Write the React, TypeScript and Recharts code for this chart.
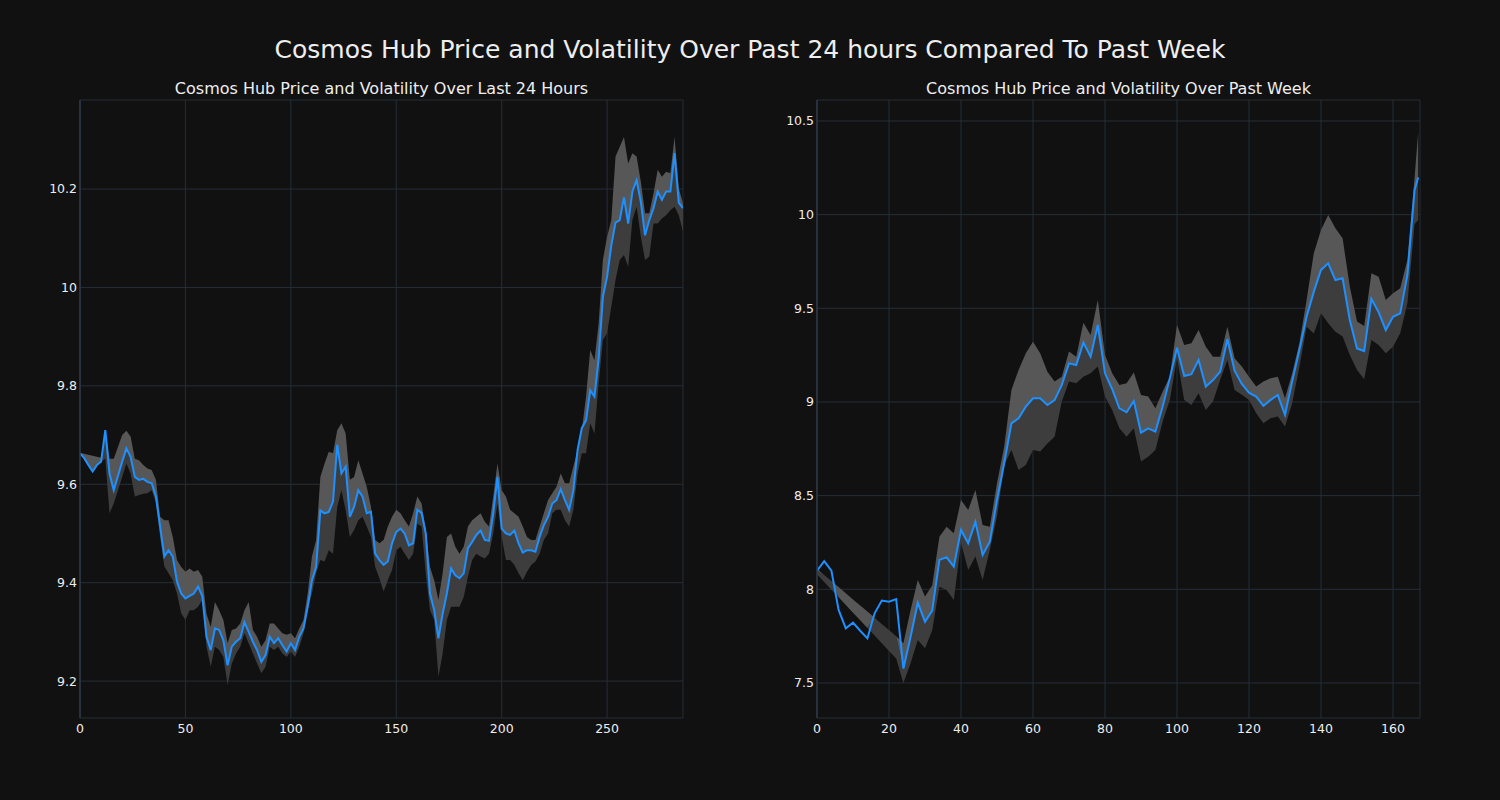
import React from 'react';
import { ComposedChart, Line, Area, XAxis, YAxis, CartesianGrid } from 'recharts';

// last 24 hours, one reading every 2 steps (x = 0..286)
const dayPrice = [
  9.663, 9.653, 9.639, 9.626, 9.639, 9.646, 9.710, 9.622, 9.588, 9.617,
  9.646, 9.673, 9.656, 9.615, 9.609, 9.611, 9.605, 9.602, 9.575, 9.514,
  9.453, 9.466, 9.453, 9.402, 9.378, 9.368, 9.373, 9.378, 9.392, 9.373,
  9.290, 9.263, 9.307, 9.304, 9.283, 9.232, 9.270, 9.280, 9.287, 9.320,
  9.300, 9.280, 9.263, 9.239, 9.253, 9.290, 9.277, 9.287, 9.273, 9.260,
  9.277, 9.263, 9.290, 9.307, 9.351, 9.405, 9.432, 9.547, 9.541, 9.544,
  9.565, 9.680, 9.622, 9.636, 9.534, 9.554, 9.588, 9.575, 9.541, 9.544,
  9.459, 9.446, 9.436, 9.443, 9.480, 9.503, 9.510, 9.500, 9.476, 9.480,
  9.548, 9.542, 9.500, 9.378, 9.344, 9.287, 9.337, 9.378, 9.429, 9.415,
  9.409, 9.419, 9.470, 9.483, 9.497, 9.506, 9.487, 9.485, 9.541, 9.615,
  9.510, 9.500, 9.497, 9.506, 9.480, 9.461, 9.466, 9.466, 9.463, 9.493,
  9.517, 9.534, 9.561, 9.568, 9.590, 9.568, 9.548, 9.588, 9.670, 9.714,
  9.730, 9.791, 9.778, 9.856, 9.981, 10.022, 10.086, 10.132, 10.137, 10.183,
  10.130, 10.195, 10.218, 10.174, 10.106, 10.137, 10.161, 10.195, 10.178, 10.195,
  10.195, 10.273, 10.172, 10.161,
];
const dayHigh = [
  9.664, 9.662, 9.660, 9.658, 9.656, 9.654, 9.712, 9.652, 9.652, 9.676,
  9.700, 9.709, 9.697, 9.652, 9.649, 9.639, 9.632, 9.629, 9.609, 9.534,
  9.527, 9.527, 9.493, 9.446, 9.432, 9.422, 9.429, 9.422, 9.426, 9.412,
  9.337, 9.310, 9.361, 9.344, 9.324, 9.277, 9.304, 9.307, 9.317, 9.344,
  9.361, 9.304, 9.290, 9.270, 9.283, 9.317, 9.317, 9.307, 9.297, 9.294,
  9.297, 9.287, 9.307, 9.324, 9.378, 9.453, 9.487, 9.615, 9.642, 9.666,
  9.663, 9.710, 9.724, 9.703, 9.609, 9.615, 9.649, 9.622, 9.595, 9.554,
  9.487, 9.480, 9.487, 9.514, 9.534, 9.548, 9.541, 9.527, 9.514, 9.541,
  9.575, 9.561, 9.507, 9.432, 9.405, 9.365, 9.419, 9.493, 9.500, 9.473,
  9.459, 9.473, 9.514, 9.527, 9.534, 9.541, 9.524, 9.514, 9.575, 9.642,
  9.588, 9.575, 9.548, 9.541, 9.534, 9.514, 9.493, 9.487, 9.487, 9.514,
  9.541, 9.568, 9.582, 9.595, 9.622, 9.602, 9.602, 9.636, 9.670, 9.710,
  9.778, 9.873, 9.852, 9.927, 10.056, 10.103, 10.137, 10.266, 10.286, 10.306,
  10.252, 10.273, 10.266, 10.215, 10.151, 10.151, 10.191, 10.239, 10.225, 10.235,
  10.232, 10.306, 10.201, 10.171,
];
const dayLow = [
  9.663, 9.653, 9.639, 9.626, 9.639, 9.646, 9.652, 9.541, 9.561, 9.588,
  9.615, 9.642, 9.622, 9.575, 9.578, 9.581, 9.582, 9.588, 9.564, 9.493,
  9.433, 9.419, 9.405, 9.378, 9.338, 9.324, 9.344, 9.344, 9.351, 9.365,
  9.270, 9.229, 9.270, 9.263, 9.249, 9.192, 9.236, 9.256, 9.270, 9.297,
  9.277, 9.256, 9.236, 9.216, 9.229, 9.270, 9.263, 9.270, 9.256, 9.249,
  9.260, 9.249, 9.270, 9.297, 9.344, 9.378, 9.419, 9.446, 9.443, 9.466,
  9.459, 9.554, 9.588, 9.547, 9.493, 9.507, 9.527, 9.534, 9.514, 9.493,
  9.432, 9.409, 9.382, 9.405, 9.426, 9.466, 9.473, 9.459, 9.446, 9.459,
  9.520, 9.514, 9.419, 9.344, 9.324, 9.209, 9.256, 9.324, 9.351, 9.351,
  9.351, 9.371, 9.412, 9.446, 9.459, 9.453, 9.449, 9.459, 9.500, 9.561,
  9.493, 9.446, 9.446, 9.436, 9.419, 9.405, 9.422, 9.436, 9.443, 9.459,
  9.487, 9.500, 9.541, 9.548, 9.548, 9.527, 9.514, 9.548, 9.622, 9.663,
  9.663, 9.724, 9.703, 9.805, 9.893, 9.907, 9.961, 10.015, 10.056, 10.066,
  10.042, 10.137, 10.164, 10.103, 10.056, 10.063, 10.130, 10.130, 10.140, 10.147,
  10.157, 10.164, 10.147, 10.113,
];
const dayHours = dayPrice.map((_, i) => i * 2);

// past week, hourly readings every 2 hours, last one at hour 167
const weekPrice = [
  8.100, 8.150, 8.100, 7.890, 7.792, 7.822, 7.779, 7.738, 7.872, 7.940,
  7.934, 7.948, 7.577, 7.747, 7.929, 7.827, 7.886, 8.157, 8.171, 8.121,
  8.317, 8.246, 8.360, 8.183, 8.254, 8.477, 8.673, 8.886, 8.913, 8.975,
  9.020, 9.020, 8.984, 9.010, 9.091, 9.206, 9.197, 9.317, 9.242, 9.411,
  9.153, 9.068, 8.966, 8.945, 9.005, 8.836, 8.859, 8.842, 8.975, 9.126,
  9.290, 9.139, 9.148, 9.224, 9.082, 9.117, 9.162, 9.335, 9.167, 9.096,
  9.050, 9.029, 8.979, 9.011, 9.037, 8.931, 9.110, 9.278, 9.455, 9.589,
  9.705, 9.740, 9.651, 9.660, 9.438, 9.286, 9.272, 9.550, 9.480, 9.384,
  9.455, 9.473, 9.678, 10.132, 10.199,
];
const weekHigh = [
  8.110, 8.077, 8.045, 8.012, 7.979, 7.946, 7.914, 7.881, 7.848, 7.815,
  7.783, 7.750, 7.712, 7.889, 8.050, 7.961, 8.020, 8.281, 8.334, 8.299,
  8.477, 8.424, 8.530, 8.343, 8.334, 8.566, 8.762, 9.064, 9.171, 9.260,
  9.322, 9.260, 9.162, 9.109, 9.135, 9.269, 9.242, 9.423, 9.358, 9.545,
  9.251, 9.153, 9.091, 9.100, 9.157, 9.037, 9.029, 8.966, 9.055, 9.135,
  9.411, 9.304, 9.313, 9.384, 9.295, 9.242, 9.242, 9.402, 9.233, 9.189,
  9.135, 9.082, 9.109, 9.126, 9.135, 9.020, 9.153, 9.313, 9.545, 9.794,
  9.918, 9.998, 9.927, 9.874, 9.616, 9.429, 9.406, 9.687, 9.669, 9.545,
  9.580, 9.607, 9.758, 10.200, 10.440,
];
const weekLow = [
  8.080, 8.039, 7.998, 7.957, 7.916, 7.875, 7.835, 7.794, 7.753, 7.712,
  7.671, 7.630, 7.500, 7.605, 7.729, 7.685, 7.780, 8.014, 7.996, 7.943,
  8.246, 8.103, 8.175, 8.050, 8.210, 8.388, 8.664, 8.744, 8.637, 8.664,
  8.744, 8.735, 8.779, 8.815, 9.002, 9.109, 9.100, 9.135, 9.153, 9.189,
  9.029, 8.957, 8.860, 8.815, 8.860, 8.682, 8.708, 8.744, 8.895, 9.011,
  9.233, 9.011, 8.984, 9.046, 8.957, 9.002, 9.118, 9.224, 9.064, 9.038,
  9.011, 8.940, 8.886, 8.913, 8.922, 8.869, 8.993, 9.189, 9.402, 9.366,
  9.473, 9.420, 9.375, 9.349, 9.251, 9.171, 9.121, 9.331, 9.304, 9.260,
  9.295, 9.367, 9.527, 9.950, 9.970,
];
const weekHours = weekPrice.map((_, i) => Math.min(i * 2, 167));

const dayTicksX = [0, 50, 100, 150, 200, 250];
const dayTicksY = [9.2, 9.4, 9.6, 9.8, 10, 10.2];
const weekTicksX = [0, 20, 40, 60, 80, 100, 120, 140, 160];
const weekTicksY = [7.5, 8, 8.5, 9, 9.5, 10, 10.5];

const BG = '#111111';
const GRID = '#252e39';
const TEXT = '#eeeeee';
const FONT = '"DejaVu Sans", sans-serif';

function buildRows(xs: number[], price: number[], high: number[], low: number[]) {
  return xs.map((x, i) => {
    const mid = Math.min(Math.max(price[i], low[i]), high[i]);
    return { x, price: price[i], upper: [mid, high[i]], lower: [low[i], mid] };
  });
}

interface PanelProps {
  left: number;
  rows: any[];
  xDomain: [number, number];
  xTicks: number[];
  yDomain: [number, number];
  yTicks: number[];
}

const Panel: React.FC<PanelProps> = ({ left, rows, xDomain, xTicks, yDomain, yTicks }) => {
  const tick = { fill: TEXT, fontSize: 12.5, fontFamily: FONT };
  return (
    <div style={{ position: 'absolute', left, top: 0 }}>
      <ComposedChart width={700} height={800} data={rows} margin={{ top: 100, right: 17, left: 0, bottom: 52 }}>
        <CartesianGrid stroke={GRID} strokeWidth={1} />
        <XAxis
          type="number"
          dataKey="x"
          domain={xDomain}
          ticks={xTicks}
          tick={tick}
          tickLine={false}
          axisLine={false}
          tickSize={0}
          tickMargin={6}
          height={30}
          allowDataOverflow
        />
        <YAxis
          type="number"
          domain={yDomain}
          ticks={yTicks}
          tick={tick}
          tickLine={false}
          axisLine={{ stroke: '#2c3948', strokeWidth: 1.5 }}
          tickSize={0}
          tickMargin={3}
          width={80}
          allowDataOverflow
        />
        <Area dataKey="lower" stroke="none" fill="#3d3d3d" fillOpacity={1} isAnimationActive={false} />
        <Area dataKey="upper" stroke="none" fill="#575757" fillOpacity={1} isAnimationActive={false} />
        <Line dataKey="price" stroke="#1e90ff" strokeWidth={2} dot={false} type="linear" isAnimationActive={false} />
      </ComposedChart>
    </div>
  );
};

const App: React.FC = () => {
  const dayRows = buildRows(dayHours, dayPrice, dayHigh, dayLow);
  const weekRows = buildRows(weekHours, weekPrice, weekHigh, weekLow);

  return (
    <div style={{ position: 'absolute', left: 0, top: 0, width: 1500, height: 800, background: BG, fontFamily: FONT, color: TEXT }}>
      <div style={{ position: 'absolute', left: 0, top: 33, width: 1500, height: 34, lineHeight: '34px', textAlign: 'center', fontSize: 25 }}>
        Cosmos Hub Price and Volatility Over Past 24 hours Compared To Past Week
      </div>
      <div style={{ position: 'absolute', left: 80, top: 79, width: 603, height: 20, lineHeight: '20px', textAlign: 'center', fontSize: 16 }}>
        Cosmos Hub Price and Volatility Over Last 24 Hours
      </div>
      <div style={{ position: 'absolute', left: 817, top: 79, width: 603, height: 20, lineHeight: '20px', textAlign: 'center', fontSize: 16 }}>
        Cosmos Hub Price and Volatility Over Past Week
      </div>
      <Panel left={0} rows={dayRows} xDomain={[0, 286]} xTicks={dayTicksX} yDomain={[9.125, 10.381]} yTicks={dayTicksY} />
      <Panel left={737} rows={weekRows} xDomain={[0, 167.5]} xTicks={weekTicksX} yDomain={[7.313, 10.612]} yTicks={weekTicksY} />
    </div>
  );
};

export default App;
